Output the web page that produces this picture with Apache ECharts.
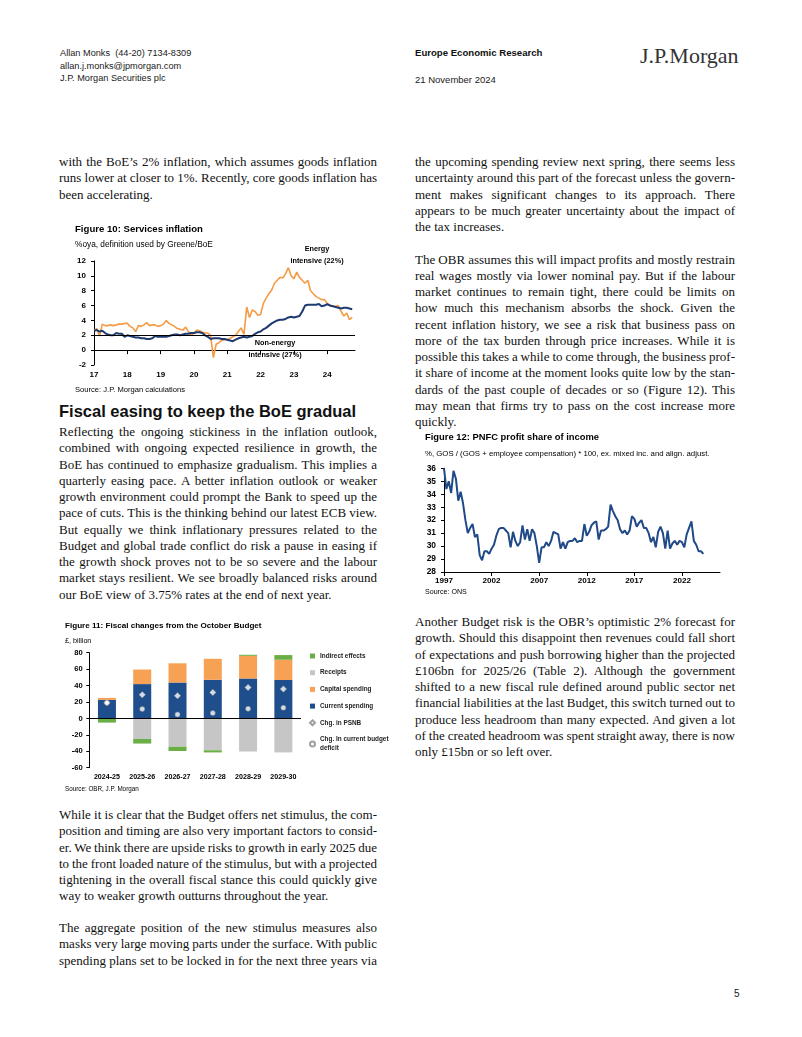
<!DOCTYPE html>
<html><head><meta charset="utf-8">
<title>Europe Economic Research – 21 November 2024</title>
<script src="https://cdn.jsdelivr.net/npm/echarts@6.0.0/dist/echarts.min.js"></script>
<style>
html,body{margin:0;padding:0;background:#fff;}
#page{position:relative;width:802px;height:1037px;overflow:hidden;background:#fff;}
.t{position:absolute;white-space:nowrap;font-family:"Liberation Sans",Arial,sans-serif;color:#1a1a1a;}
.p{position:absolute;font-family:"Liberation Serif","Times New Roman",serif;font-size:13px;line-height:16.25px;color:#111;}
.p div{white-space:nowrap;text-align:left;}
.ch{position:absolute;}
</style></head><body><div id="page">

<div class="t" style="left:60px;top:47px;font-size:9.2px;line-height:12.5px;">Allan Monks&nbsp; (44-20) 7134-8309<br>allan.j.monks@jpmorgan.com<br>J.P. Morgan Securities plc</div>
<div class="t" style="left:415px;top:47px;font-size:9.6px;line-height:12.5px;font-weight:bold;color:#111;">Europe Economic Research</div>
<div class="t" style="left:415px;top:74px;font-size:9.5px;line-height:12.5px;">21 November 2024</div>
<div class="t" style="left:640px;top:43px;font-size:22px;line-height:26px;font-family:'Liberation Serif','Times New Roman',serif;color:#333;">J.P.Morgan</div>

<div class="p" style="left:59px;top:154.2px;width:318px;">
<div>with the BoE’s 2% inflation, which assumes goods inflation</div>
<div>runs lower at closer to 1%. Recently, core goods inflation has</div>
<div class="e">been accelerating.</div>
</div>

<div class="t" style="left:59px;top:401px;font-size:16.5px;line-height:20px;font-weight:bold;color:#111;">Fiscal easing to keep the BoE gradual</div>

<div class="p" style="left:59px;top:424.2px;width:318px;">
<div>Reflecting the ongoing stickiness in the inflation outlook,</div>
<div>combined with ongoing expected resilience in growth, the</div>
<div>BoE has continued to emphasize gradualism. This implies a</div>
<div>quarterly easing pace. A better inflation outlook or weaker</div>
<div>growth environment could prompt the Bank to speed up the</div>
<div>pace of cuts. This is the thinking behind our latest ECB view.</div>
<div>But equally we think inflationary pressures related to the</div>
<div>Budget and global trade conflict do risk a pause in easing if</div>
<div>the growth shock proves not to be so severe and the labour</div>
<div>market stays resilient. We see broadly balanced risks around</div>
<div class="e">our BoE view of 3.75% rates at the end of next year.</div>
</div>

<div class="p" style="left:59px;top:807px;width:318px;">
<div>While it is clear that the Budget offers net stimulus, the com-</div>
<div>position and timing are also very important factors to consid-</div>
<div>er. We think there are upside risks to growth in early 2025 due</div>
<div>to the front loaded nature of the stimulus, but with a projected</div>
<div>tightening in the overall fiscal stance this could quickly give</div>
<div class="e">way to weaker growth outturns throughout the year.</div>
</div>

<div class="p" style="left:59px;top:920px;width:318px;">
<div>The aggregate position of the new stimulus measures also</div>
<div>masks very large moving parts under the surface. With public</div>
<div>spending plans set to be locked in for the next three years via</div>
</div>

<div class="p" style="left:415px;top:154.2px;width:320px;">
<div>the upcoming spending review next spring, there seems less</div>
<div>uncertainty around this part of the forecast unless the govern-</div>
<div>ment makes significant changes to its approach. There</div>
<div>appears to be much greater uncertainty about the impact of</div>
<div class="e">the tax increases.</div>
</div>

<div class="p" style="left:415px;top:251.7px;width:320px;">
<div>The OBR assumes this will impact profits and mostly restrain</div>
<div>real wages mostly via lower nominal pay. But if the labour</div>
<div>market continues to remain tight, there could be limits on</div>
<div>how much this mechanism absorbs the shock. Given the</div>
<div>recent inflation history, we see a risk that business pass on</div>
<div>more of the tax burden through price increases. While it is</div>
<div>possible this takes a while to come through, the business prof-</div>
<div>it share of income at the moment looks quite low by the stan-</div>
<div>dards of the past couple of decades or so (Figure 12). This</div>
<div>may mean that firms try to pass on the cost increase more</div>
<div class="e">quickly.</div>
</div>

<div class="p" style="left:415px;top:614px;width:320px;">
<div>Another Budget risk is the OBR’s optimistic 2% forecast for</div>
<div>growth. Should this disappoint then revenues could fall short</div>
<div>of expectations and push borrowing higher than the projected</div>
<div>£106bn for 2025/26 (Table 2). Although the government</div>
<div>shifted to a new fiscal rule defined around public sector net</div>
<div>financial liabilities at the last Budget, this switch turned out to</div>
<div>produce less headroom than many expected. And given a lot</div>
<div>of the created headroom was spent straight away, there is now</div>
<div class="e">only £15bn or so left over.</div>
</div>

<div class="t" style="left:734px;top:988px;font-size:10px;line-height:12px;">5</div>

<div id="c10" class="ch" style="left:60px;top:218px;width:315px;height:182px;"></div>
<div id="c11" class="ch" style="left:60px;top:617px;width:332px;height:180px;"></div>
<div id="c12" class="ch" style="left:415px;top:428px;width:320px;height:172px;"></div>

</div>
<script>
// ---------------- DATA ----------------
// Figure 10: services inflation, %oya, monthly Jan-2017 .. Oct-2024
const fig10StartYear = 2017;
const energyIntensive = [
  2.7, 2.9, 1.9, 3.5, 3.3, 3.3, 3.4, 3.3, 3.4, 3.5, 3.5, 3.6,
  3.6, 3.2, 3.0, 2.5, 3.3, 3.2, 3.4, 3.7, 3.3, 3.4, 3.4, 3.2,
  3.3, 3.5, 4.0, 3.6, 3.4, 3.2, 2.9, 2.8, 2.7, 3.1, 2.5, 2.0,
  2.3, 2.7, 2.6, 2.4, 2.3, 2.3, 2.0, -1.0, 0.8, 1.0, 1.3, 1.4,
  1.4, 1.6, 1.8, 2.0, 2.5, 3.0, 2.1, 5.8, 4.4, 5.4, 5.2, 4.7,
  4.8, 6.3, 7.0, 7.6, 8.1, 9.0, 9.4, 9.8, 9.7, 10.3, 11.1, 10.0,
  9.6, 10.5, 9.8, 9.4, 9.0, 9.4, 8.0, 7.6, 7.2, 7.0, 6.8, 6.8,
  6.3, 6.0, 5.9, 5.9, 6.0, 5.2, 4.6, 5.0, 4.1, 4.4
];
const nonEnergyIntensive = [
  2.6, 2.7, 2.5, 2.6, 2.3, 2.1, 2.0, 2.0, 2.3, 2.2, 2.2, 1.8,
  2.0, 1.9, 1.8, 1.7, 1.7, 1.6, 1.6, 1.5, 1.5, 1.6, 1.9, 1.8,
  1.8, 1.8, 1.8, 1.9, 2.0, 2.1, 2.1, 2.0, 2.1, 2.2, 2.2, 2.3,
  2.3, 2.4, 2.4, 2.3, 2.0, 1.8, 1.5, 1.6, 1.6, 1.6, 1.5, 1.5,
  1.4, 1.3, 1.2, 1.4, 1.6, 1.7, 1.8, 1.7, 1.8, 1.9, 2.2, 2.4,
  2.5, 2.8, 3.0, 3.3, 3.6, 3.8, 4.0, 4.1, 4.1, 4.2, 4.4, 4.5,
  4.4, 4.5, 4.6, 5.2, 6.0, 6.1, 6.1, 6.1, 6.1, 6.2, 5.9, 6.0,
  6.2, 6.0, 5.9, 5.8, 5.7, 5.6, 5.7, 5.7, 5.6, 5.5
];
const fig10Threshold = 2;

// Figure 11: fiscal changes from the October Budget, £bn
const fiscalYears = ['2024-25', '2025-26', '2026-27', '2027-28', '2028-29', '2029-30'];
const currentSpending = [22.5, 41.8, 43.7, 47.0, 48.6, 46.8];
const capitalSpending = [2.5, 17.7, 23.4, 25.6, 27.6, 24.6];
const receipts = [0, -25.0, -34.5, -38.8, -40.3, -41.4];
const indirectEffects = [-5.1, -5.6, -5.2, -2.6, 1.3, 5.7];
const chgPSNB = [19.0, 28.8, 27.6, 31.7, 37.7, 35.7];
const chgCurrentDeficit = [19.0, 11.4, 4.9, 6.5, 11.8, 13.0];

// Figure 12: PNFC profit share of income, %, quarterly 1997Q1 .. 2024Q2
const fig12StartYear = 1997;
const profitShare = [
  36.0, 34.4, 35.0, 34.1, 35.8, 35.2, 33.5, 34.2, 33.3, 32.0,
  31.0, 31.4, 31.7, 30.7, 30.9, 29.3, 28.9, 29.6, 29.6, 29.4,
  29.8, 30.1, 30.8, 31.3, 31.4, 31.4, 31.2, 31.0, 29.9, 31.1,
  30.4, 30.0, 30.3, 31.6, 30.5, 31.3, 30.4, 31.3, 31.0, 30.0,
  28.7, 29.9, 29.9, 30.3, 30.0, 30.4, 31.1, 31.0, 30.9, 29.8,
  30.3, 29.8, 30.3, 30.4, 30.4, 30.6, 30.3, 30.4, 30.4, 31.7,
  30.8, 31.1, 31.6, 31.8, 31.9, 30.5, 31.2, 31.2, 31.3, 31.5,
  33.2, 32.7, 32.3, 32.0, 31.3, 31.0, 31.2, 30.9, 31.2, 32.3,
  32.1, 31.5, 31.8, 32.0, 31.4, 31.4, 31.0, 30.3, 30.7, 29.9,
  31.1, 31.5, 31.0, 29.8, 31.2, 29.8, 30.2, 30.4, 30.1, 30.4,
  30.3, 29.9, 30.9, 31.4, 31.9, 30.4, 30.1, 29.6, 29.6, 29.4
];

// ---------------- TEXT JUSTIFICATION ----------------
document.querySelectorAll('.p').forEach(p => {
  const W = p.clientWidth;
  p.querySelectorAll('div').forEach(d => {
    const s = document.createElement('span');
    s.textContent = d.textContent.trim();
    d.textContent = '';
    d.appendChild(s);
    const w = s.getBoundingClientRect().width;
    const n = (s.textContent.match(/ /g) || []).length;
    if ((!d.classList.contains('e') || w > W) && n) {
      s.style.wordSpacing = ((W - w) / n) + 'px';
    }
  });
});

// ---------------- CATEGORIES ----------------
const fig10Months = [];
for (let i = 0; i < energyIntensive.length + 1; i++) {
  const y = fig10StartYear + Math.floor(i / 12), m = (i % 12) + 1;
  fig10Months.push(y + '-' + (m < 10 ? '0' + m : m));
}
const fig12Quarters = [];
for (let i = 0; i < profitShare.length + 7; i++) {
  fig12Quarters.push((fig12StartYear + Math.floor(i / 4)) + ' Q' + ((i % 4) + 1));
}

// ---------------- FONTS ----------------
function hasFont(name) {
  const c = document.createElement('canvas').getContext('2d');
  const s = 'mmmmmmmmmmlliiWW0123456789';
  c.font = '40px monospace'; const a = c.measureText(s).width;
  c.font = '40px "' + name + '", monospace'; const b = c.measureText(s).width;
  return Math.abs(a - b) > 0.5;
}
const NARROW = hasFont('Liberation Sans Narrow');
const FF = NARROW ? '"Liberation Sans Narrow","Liberation Sans",Arial,sans-serif' : '"Liberation Sans",Arial,sans-serif';
const K = NARROW ? 1.2 : 1.08;
const fz = s => Math.round(s * K * 10) / 10;
function ts(size, bold, color) {
  return { fontFamily: FF, fontSize: fz(size), fontWeight: bold ? 'bold' : 'normal', color: color || '#000' };
}
function gtext(x, y, text, size, bold, align, lh) {
  return {
    type: 'text', x: x, y: y, silent: true, z: 100,
    style: {
      text: text, fontFamily: FF, fontSize: fz(size), fontWeight: bold ? 'bold' : 'normal',
      fill: '#000', align: align || 'left', textAlign: align || 'left',
      verticalAlign: 'middle', textVerticalAlign: 'middle', lineHeight: lh || fz(size) * 1.2
    }
  };
}

// ---------------- FIGURE 10 ----------------
const c10 = echarts.init(document.getElementById('c10'), null, { renderer: 'canvas' });
c10.setOption({
  animation: false,
  textStyle: { fontFamily: FF },
  grid: { left: 34, top: 43, right: 20, bottom: 35, outerBoundsMode: 'none' },
  xAxis: {
    type: 'category', data: fig10Months, boundaryGap: false,
    axisLine: { lineStyle: { color: '#000', width: 1 } },
    axisTick: { interval: (i) => i % 12 === 0, length: 4, lineStyle: { color: '#000' } },
    axisLabel: Object.assign({ interval: (i) => i % 12 === 0, formatter: v => v.slice(2, 4), margin: 6 }, ts(7.4, true)),
    splitLine: { show: false }
  },
  yAxis: {
    type: 'value', min: -2, max: 12, interval: 2,
    axisLine: { show: true, lineStyle: { color: '#000', width: 1 } },
    axisTick: { show: true, length: 3, lineStyle: { color: '#000' } },
    axisLabel: Object.assign({ margin: 8 }, ts(7.4, true)),
    splitLine: { show: false }
  },
  series: [
    { name: 'Energy intensive (22%)', type: 'line', data: energyIntensive, showSymbol: false, symbol: 'none',
      lineStyle: { color: '#F59B45', width: 1.6 }, itemStyle: { color: '#F59B45' }, z: 2, emphasis: { disabled: true } },
    { name: 'Non-energy intensive (27%)', type: 'line', data: nonEnergyIntensive, showSymbol: false, symbol: 'none',
      lineStyle: { color: '#1F3A70', width: 2 }, itemStyle: { color: '#1F3A70' }, z: 3, emphasis: { disabled: true },
      markLine: { silent: true, symbol: 'none', label: { show: false }, animation: false,
        lineStyle: { color: '#000', width: 1, type: 'solid' }, data: [{ yAxis: fig10Threshold }] } }
  ],
  graphic: [
    gtext(15, 11, 'Figure 10: Services inflation', 8.9, true),
    gtext(15, 27, '%oya, definition used by Greene/BoE', 7.7, false),
    gtext(15, 172, 'Source: J.P. Morgan calculations', 7.0, false),
    gtext(257, 37, 'Energy\nintensive (22%)', 6.8, true, 'center', 12),
    gtext(215, 131, 'Non-energy\nintensive (27%)', 6.8, true, 'center', 12)
  ]
});

// ---------------- FIGURE 11 ----------------
const NAVY = '#1F4E8C', ORANGE = '#F7A155', GREY = '#C6C6C6', GREEN = '#6AAF45';
const c11 = echarts.init(document.getElementById('c11'), null, { renderer: 'canvas' });
const barCommon = { type: 'bar', stack: 'fiscal', barWidth: 18, emphasis: { disabled: true } };
c11.setOption({
  animation: false,
  textStyle: { fontFamily: FF },
  grid: { left: 29.3, top: 35.7, right: 91, bottom: 29.3, outerBoundsMode: 'none' },
  legend: {
    orient: 'vertical', left: 249, top: 34.5, itemWidth: 5, itemHeight: 5, itemGap: 7.7,
    selectedMode: false, padding: 0,
    textStyle: Object.assign({ lineHeight: 9 }, ts(5.9, true, '#222')),
    formatter: n => n === 'Chg. In current budget deficit' ? 'Chg. In current budget\ndeficit' : n,
    data: [
      { name: 'Indirect effects', icon: 'rect' },
      { name: 'Receipts', icon: 'rect' },
      { name: 'Capital spending', icon: 'rect' },
      { name: 'Current spending', icon: 'rect' },
      { name: 'Chg. in PSNB', icon: 'diamond' },
      { name: 'Chg. In current budget deficit', icon: 'circle' }
    ]
  },
  xAxis: {
    type: 'category', data: fiscalYears,
    axisLine: { show: false, onZero: false }, axisTick: { show: false },
    axisLabel: Object.assign({ margin: 5.5, interval: 0 }, ts(6.6, true)),
    splitLine: { show: false }
  },
  yAxis: {
    type: 'value', min: -60, max: 80, interval: 20,
    axisLine: { show: true, lineStyle: { color: '#000', width: 1 } },
    axisTick: { show: true, length: 3, lineStyle: { color: '#000' } },
    axisLabel: Object.assign({ margin: 6.5 }, ts(7.0, true)),
    splitLine: { show: false }
  },
  series: [
    Object.assign({ name: 'Current spending', data: currentSpending, itemStyle: { color: NAVY } }, barCommon),
    Object.assign({ name: 'Capital spending', data: capitalSpending, itemStyle: { color: ORANGE } }, barCommon),
    Object.assign({ name: 'Receipts', data: receipts, itemStyle: { color: GREY } }, barCommon),
    Object.assign({ name: 'Indirect effects', data: indirectEffects, itemStyle: { color: GREEN },
      markLine: { silent: true, symbol: 'none', label: { show: false }, animation: false,
        lineStyle: { color: '#000', width: 1.2, type: 'solid' }, data: [{ yAxis: 0 }] } }, barCommon),
    { name: 'Chg. in PSNB', type: 'scatter', data: chgPSNB, symbol: 'diamond', symbolSize: 6.5, z: 5,
      itemStyle: { color: '#fff', borderColor: '#888', borderWidth: 0.6 }, emphasis: { disabled: true } },
    { name: 'Chg. In current budget deficit', type: 'scatter', data: chgCurrentDeficit, symbol: 'circle', symbolSize: 5, z: 5,
      itemStyle: { color: '#fff', borderColor: '#888', borderWidth: 0.6 }, emphasis: { disabled: true } }
  ],
  graphic: [
    gtext(5, 9, 'Figure 11: Fiscal changes from the October Budget', 7.5, true),
    gtext(5, 24, '£, billion', 6.7, false),
    gtext(5, 172, 'Source: OBR, J.P. Morgan', 5.8, false)
  ]
});

// ---------------- FIGURE 12 ----------------
const c12 = echarts.init(document.getElementById('c12'), null, { renderer: 'canvas' });
c12.setOption({
  animation: false,
  textStyle: { fontFamily: FF },
  grid: { left: 29, top: 40.3, right: 15, bottom: 28, outerBoundsMode: 'none' },
  xAxis: {
    type: 'category', data: fig12Quarters, boundaryGap: false,
    axisLine: { lineStyle: { color: '#000', width: 1 } },
    axisTick: { interval: (i) => i % 20 === 0, length: 4, lineStyle: { color: '#000' } },
    axisLabel: Object.assign({ interval: (i) => i % 20 === 0, formatter: v => v.slice(0, 4), margin: 5 }, ts(7.5, true)),
    splitLine: { show: false }
  },
  yAxis: {
    type: 'value', min: 28, max: 36, interval: 1,
    axisLine: { show: true, lineStyle: { color: '#000', width: 1 } },
    axisTick: { show: true, length: 3, lineStyle: { color: '#000' } },
    axisLabel: Object.assign({ margin: 8 }, ts(7.8, true)),
    splitLine: { show: false }
  },
  series: [
    { name: 'PNFC profit share of income', type: 'line', data: profitShare, showSymbol: false, symbol: 'none',
      lineStyle: { color: '#1F4A87', width: 2 }, itemStyle: { color: '#1F4A87' }, emphasis: { disabled: true } }
  ],
  graphic: [
    gtext(10, 9, 'Figure 12: PNFC profit share of income', 8.7, true),
    gtext(10, 26, '%, GOS / (GOS + employee compensation) * 100, ex. mixed inc. and align. adjust.', 7.2, false),
    gtext(10, 164, 'Source: ONS', 6.6, false)
  ]
});
</script>
</body></html>
